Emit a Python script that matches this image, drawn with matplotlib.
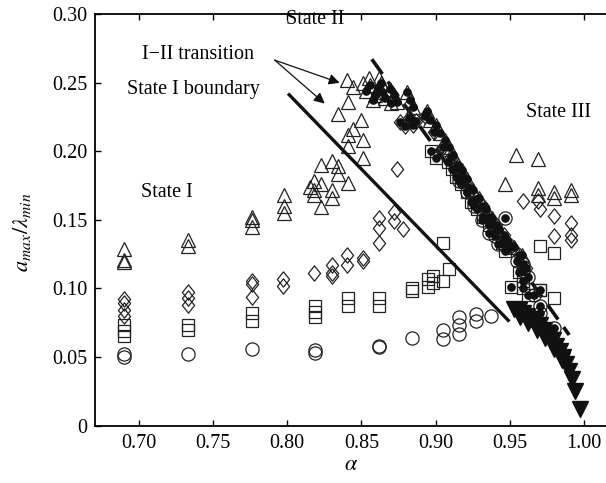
import matplotlib
matplotlib.use("Agg")
import matplotlib.pyplot as plt
import numpy as np
from matplotlib.path import Path

plt.rcParams['font.family'] = ['Liberation Serif', 'DejaVu Serif']
plt.rcParams['mathtext.fontset'] = 'stix'

# open markers (no dot)
tri_a = [0.690, 0.690, 0.690, 0.733, 0.733, 0.776, 0.776, 0.776, 0.798, 0.798, 0.798,
         0.815, 0.818, 0.818, 0.818, 0.823, 0.823, 0.823, 0.830, 0.830, 0.830, 0.834, 0.834,
         0.841, 0.841, 0.841, 0.844, 0.834, 0.841, 0.840, 0.844, 0.850, 0.851, 0.851,
         0.851, 0.855, 0.862,
         0.947, 0.954, 0.969, 0.969, 0.969, 0.980, 0.980, 0.991, 0.991]
tri_y = [0.129, 0.121, 0.119, 0.135, 0.131, 0.152, 0.150, 0.145, 0.168, 0.160, 0.155,
         0.174, 0.178, 0.172, 0.168, 0.190, 0.176, 0.159, 0.193, 0.172, 0.166, 0.189, 0.183,
         0.177, 0.204, 0.212, 0.216, 0.227, 0.236, 0.252, 0.247, 0.223, 0.208, 0.195,
         0.250, 0.253, 0.253,
         0.176, 0.197, 0.194, 0.173, 0.168, 0.170, 0.166, 0.172, 0.168]

dia_a = [0.690, 0.690, 0.690, 0.690, 0.733, 0.733, 0.733, 0.776, 0.776, 0.776, 0.797, 0.797,
         0.818, 0.830, 0.830, 0.830, 0.840, 0.840, 0.851, 0.851, 0.862, 0.862, 0.862,
         0.872, 0.872, 0.878, 0.874,
         0.959, 0.969, 0.970, 0.980, 0.980, 0.991, 0.991, 0.991]
dia_y = [0.092, 0.089, 0.084, 0.080, 0.097, 0.093, 0.088, 0.105, 0.103, 0.094, 0.107, 0.102,
         0.111, 0.117, 0.111, 0.109, 0.124, 0.117, 0.122, 0.120, 0.151, 0.144, 0.133,
         0.156, 0.149, 0.143, 0.187,
         0.164, 0.164, 0.158, 0.153, 0.138, 0.148, 0.139, 0.135]

sq_a = [0.690, 0.690, 0.690, 0.733, 0.733, 0.776, 0.776, 0.819, 0.819, 0.819, 0.841, 0.841,
        0.862, 0.862, 0.884, 0.884, 0.895, 0.895, 0.898, 0.898, 0.905, 0.905, 0.909,
        0.970, 0.980, 0.970, 0.980]
sq_y = [0.073, 0.069, 0.065, 0.073, 0.070, 0.082, 0.076, 0.087, 0.083, 0.079, 0.093, 0.087,
        0.093, 0.087, 0.100, 0.098, 0.107, 0.101, 0.109, 0.104, 0.105, 0.133, 0.114,
        0.131, 0.126, 0.099, 0.093]

circ_a = [0.690, 0.690, 0.733, 0.776, 0.819, 0.819, 0.862, 0.862, 0.884, 0.905, 0.905,
          0.916, 0.916, 0.916, 0.927, 0.927, 0.937]
circ_y = [0.052, 0.050, 0.052, 0.056, 0.055, 0.053, 0.058, 0.057, 0.064, 0.070, 0.063,
          0.079, 0.073, 0.067, 0.081, 0.076, 0.080]

# state II markers (with black dot)
tri2_a = [0.853, 0.856, 0.858, 0.859, 0.861, 0.863, 0.864, 0.866, 0.869, 0.870, 0.872,
          0.874, 0.881, 0.883, 0.885, 0.894, 0.896, 0.900, 0.903, 0.906, 0.909, 0.912,
          0.915, 0.918, 0.921, 0.925, 0.929, 0.934, 0.938, 0.943, 0.948, 0.953, 0.958]
tri2_y = [0.244, 0.248, 0.237, 0.241, 0.246, 0.250, 0.243, 0.239, 0.245, 0.235, 0.241,
          0.236, 0.243, 0.237, 0.232, 0.229, 0.223, 0.219, 0.213, 0.208, 0.203, 0.197,
          0.190, 0.186, 0.180, 0.172, 0.166, 0.158, 0.151, 0.143, 0.135, 0.130, 0.124]

dia2_a = [0.876, 0.879, 0.882, 0.885, 0.887, 0.893, 0.899, 0.905, 0.910, 0.914, 0.918,
          0.922, 0.927, 0.932, 0.936, 0.941, 0.946, 0.951, 0.956, 0.961]
dia2_y = [0.221, 0.218, 0.224, 0.219, 0.222, 0.226, 0.214, 0.203, 0.196, 0.188, 0.181,
          0.174, 0.165, 0.160, 0.152, 0.146, 0.139, 0.131, 0.124, 0.115]

sq2_a = [0.897, 0.900, 0.908, 0.911, 0.914, 0.917, 0.921, 0.924, 0.928, 0.932, 0.936,
         0.940, 0.945, 0.947, 0.951, 0.956, 0.959, 0.959, 0.962, 0.970]
sq2_y = [0.200, 0.195, 0.192, 0.187, 0.181, 0.176, 0.170, 0.163, 0.158, 0.152, 0.146,
         0.140, 0.133, 0.127, 0.101, 0.112, 0.105, 0.100, 0.095, 0.099]

circ2_a = [0.916, 0.921, 0.926, 0.931, 0.936, 0.940, 0.942, 0.947, 0.949, 0.955, 0.959,
           0.959, 0.962, 0.966, 0.970, 0.970, 0.980]
circ2_y = [0.178, 0.170, 0.160, 0.150, 0.140, 0.138, 0.132, 0.151, 0.130, 0.120, 0.118,
           0.113, 0.108, 0.095, 0.087, 0.082, 0.071]

# filled down triangles
inv_a = [0.953, 0.956, 0.957, 0.959, 0.961, 0.962, 0.964, 0.967, 0.968, 0.970, 0.973,
         0.974, 0.976, 0.979, 0.980, 0.981, 0.984, 0.985, 0.986, 0.988, 0.990, 0.992,
         0.994, 0.997]
inv_y = [0.085, 0.084, 0.079, 0.082, 0.080, 0.075, 0.078, 0.076, 0.070, 0.073, 0.070,
         0.064, 0.066, 0.062, 0.056, 0.058, 0.054, 0.048, 0.050, 0.045, 0.040, 0.034,
         0.025, 0.012]

# lines
bound_a = [0.8005, 0.9497]
bound_y = [0.242, 0.0758]
trans_a = [0.857, 0.990]
trans_y = [0.267, 0.066]

xticks = [0.70, 0.75, 0.80, 0.85, 0.90, 0.95, 1.00]
yticks = [0, 0.05, 0.10, 0.15, 0.20, 0.25, 0.30]
ytick_labels = ['0', '0.05', '0.10', '0.15', '0.20', '0.25', '0.30']

diamond = Path([(0, 1), (0.8, 0), (0, -1), (-0.8, 0), (0, 1)],
               [Path.MOVETO, Path.LINETO, Path.LINETO, Path.LINETO, Path.CLOSEPOLY])

fig = plt.figure(figsize=(6.06, 4.83), dpi=100)
ax = fig.add_axes([0.1575, 0.119, 0.8425, 0.852])

ax.plot(trans_a, trans_y, color='#111111', lw=2.6, linestyle=(0, (5, 2.6)),
        solid_capstyle='butt', zorder=1)

kw = dict(linestyle='none', mfc='none', mec='#222222', mew=0.9, zorder=3)
ax.plot(tri_a, tri_y, marker='^', ms=10, **kw)
ax.plot(dia_a, dia_y, marker=diamond, ms=11, **kw)
ax.plot(sq_a, sq_y, marker='s', ms=8.5, **kw)
ax.plot(circ_a, circ_y, marker='o', ms=9.5, **kw)

ax.plot(tri2_a, tri2_y, marker='^', ms=10, **kw)
ax.plot(dia2_a, dia2_y, marker=diamond, ms=11, **kw)
ax.plot(sq2_a, sq2_y, marker='s', ms=8.5, **kw)
ax.plot(circ2_a, circ2_y, marker='o', ms=9.5, **kw)
for a, y in [(tri2_a, tri2_y), (dia2_a, dia2_y), (sq2_a, sq2_y), (circ2_a, circ2_y)]:
    ax.plot(a, y, linestyle='none', marker='o', ms=5.2, color='#111111', zorder=4)

ax.plot(inv_a, inv_y, linestyle='none', marker='v', ms=11, color='#111111',
        mec='#111111', zorder=4)

ax.plot(bound_a, bound_y, color='#111111', lw=2.4, solid_capstyle='butt', zorder=5)

ax.text(0.7397, 0.2704, 'I\u2212II transition', fontsize=14.5, ha='center', va='center')
ax.text(0.737, 0.2449, 'State I boundary', fontsize=14.5, ha='center', va='center')
ax.text(0.8191, 0.2960, 'State II', fontsize=14.5, ha='center', va='center')
ax.text(0.7186, 0.1697, 'State I', fontsize=14.5, ha='center', va='center')
ax.text(0.983, 0.228, 'State III', fontsize=14.5, ha='center', va='center')

arrow = dict(arrowstyle='-|>', color='#111111', lw=0.9, mutation_scale=16, shrinkA=0, shrinkB=0)
ax.annotate('', xy=(0.8353, 0.2498), xytext=(0.7915, 0.2664), arrowprops=arrow)
ax.annotate('', xy=(0.8252, 0.2347), xytext=(0.7915, 0.2664), arrowprops=arrow)

ax.set_xlim(0.6707, 1.0148)
ax.set_ylim(0, 0.30)
ax.set_xticks(xticks)
ax.set_xticklabels(['%.2f' % t for t in xticks])
ax.set_yticks(yticks)
ax.set_yticklabels(ytick_labels)
ax.tick_params(direction='in', length=4, width=1.0, labelsize=14.5, top=True, right=False,
               pad=6)
ax.spines['right'].set_visible(False)
for s in ['left', 'bottom', 'top']:
    ax.spines[s].set_linewidth(1.3)

ax.set_xlabel(r'$\alpha$', fontsize=16, labelpad=2)
fig.text(0.036, 0.52, r'$a_{max}/\lambda_{min}$', fontsize=16, rotation=90,
         ha='center', va='center')

fig.savefig('out.png', dpi=100)
